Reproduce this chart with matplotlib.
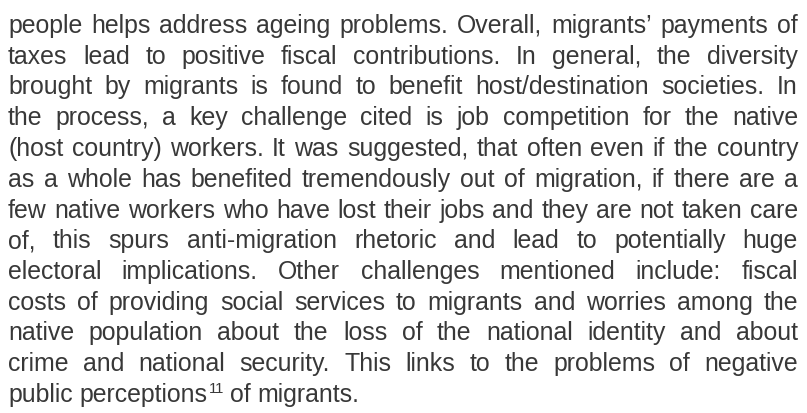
import matplotlib
matplotlib.use("Agg")
import matplotlib.pyplot as plt

# lines of the paragraph, as they break in the page
lines = [
    "people helps address ageing problems. Overall, migrants\u2019 payments of",
    "taxes lead to positive fiscal contributions. In general, the diversity",
    "brought by migrants is found to benefit host/destination societies. In",
    "the process, a key challenge cited is job competition for the native",
    "(host country) workers. It was suggested, that often even if the country",
    "as a whole has benefited tremendously out of migration, if there are a",
    "few native workers who have lost their jobs and they are not taken care",
    "of, this spurs anti-migration rhetoric and lead to potentially huge",
    "electoral implications. Other challenges mentioned include: fiscal",
    "costs of providing social services to migrants and worries among the",
    "native population about the loss of the national identity and about",
    "crime and national security. This links to the problems of negative",
]
# last line is not justified and carries a footnote mark
last_line = ["public", "perceptions", "of", "migrants."]
footnote = "11"
footnote_after = 1   # the mark follows "perceptions"

col = "#383838"
fsize = 17.9
family = "Liberation Sans"
left, right = 8, 798
top_base, lead = 33, 30.75

fig = plt.figure(figsize=(8.07, 4.13), dpi=100)
ax = fig.add_axes([0, 0, 1, 1])
ax.set_xlim(0, 807)
ax.set_ylim(413, 0)
ax.axis("off")
r = fig.canvas.get_renderer()


def put(s, x, y, size=fsize):
    return ax.text(x, y, s, fontsize=size, family=family, color=col,
                   ha="left", va="baseline")


def width(t):
    return t.get_window_extent(r).width


# justified lines, one text per word
for i, line in enumerate(lines):
    y = round(top_base + i * lead)   # whole-pixel baseline keeps words level
    words = line.split(" ")
    objs = [put(w, 0, y) for w in words]
    ws = [width(t) for t in objs]
    gap = (right - left - sum(ws)) / (len(words) - 1)
    x = left
    for t, w in zip(objs, ws):
        t.set_x(x)
        x += w + gap

# last line, normal spacing
y = round(top_base + len(lines) * lead)
sp = 7
x = left
for k, w in enumerate(last_line):
    t = put(w, x, y)
    x += width(t) + sp
    if k == footnote_after:
        x -= sp - 1
        f = put(footnote, x, y - 9, size=fsize * 0.6)
        x += width(f) + 6

fig.savefig("out.png", dpi=100, facecolor="white")
